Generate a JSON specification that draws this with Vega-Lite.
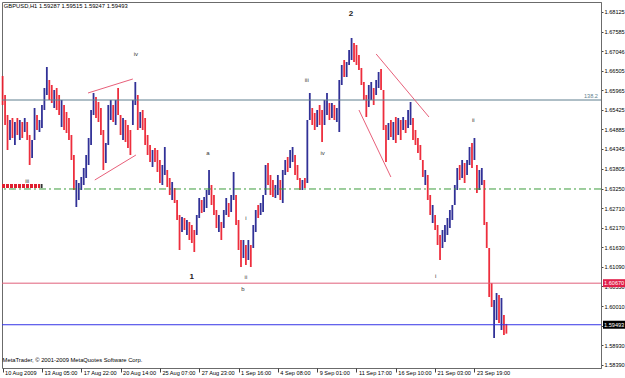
{
"$schema": "https://vega.github.io/schema/vega-lite/v6.json",
"width": 599, "height": 366,
"autosize": {"type": "none"},
"padding": {"left": 2, "top": 2, "right": 24, "bottom": 10},
"background": "white",
"config": {"view": {"stroke": "#6b6b6b", "strokeWidth": 1}, "font": "Liberation Sans"},
"resolve": {"axis": {"x": "independent", "y": "independent"}},
"datasets": {
"c": [
{"b":0,"h":1.66358,"l":1.65558,"s":"d"},{"b":4,"h":1.65834,"l":1.65006,"s":"d"},{"b":8,"h":1.65282,"l":1.64316,"s":"d"},{"b":12,"h":1.65144,"l":1.64592,"s":"u"},
{"b":16,"h":1.65199,"l":1.64647,"s":"d"},{"b":20,"h":1.65089,"l":1.64454,"s":"u"},{"b":24,"h":1.65199,"l":1.64730,"s":"d"},{"b":28,"h":1.65144,"l":1.64592,"s":"u"},
{"b":32,"h":1.65089,"l":1.64647,"s":"d"},{"b":36,"h":1.65199,"l":1.64813,"s":"u"},{"b":40,"h":1.65089,"l":1.64592,"s":"d"},{"b":44,"h":1.64730,"l":1.63902,"s":"d"},
{"b":48,"h":1.64592,"l":1.64095,"s":"u"},{"b":52,"h":1.65475,"l":1.64592,"s":"u"},{"b":56,"h":1.65282,"l":1.64868,"s":"d"},{"b":60,"h":1.65144,"l":1.64813,"s":"u"},
{"b":64,"h":1.65558,"l":1.64923,"s":"u"},{"b":68,"h":1.66027,"l":1.65420,"s":"u"},{"b":72,"h":1.66607,"l":1.65834,"s":"u"},{"b":76,"h":1.66248,"l":1.65696,"s":"d"},
{"b":80,"h":1.66110,"l":1.65613,"s":"d"},{"b":84,"h":1.65972,"l":1.65475,"s":"u"},{"b":88,"h":1.66027,"l":1.65420,"s":"d"},{"b":92,"h":1.65834,"l":1.65282,"s":"d"},
{"b":96,"h":1.65696,"l":1.64951,"s":"u"},{"b":100,"h":1.65558,"l":1.64868,"s":"d"},{"b":104,"h":1.65365,"l":1.64785,"s":"d"},{"b":108,"h":1.65199,"l":1.64592,"s":"d"},
{"b":112,"h":1.64730,"l":1.64040,"s":"d"},{"b":116,"h":1.64178,"l":1.63212,"s":"d"},{"b":120,"h":1.63488,"l":1.62743,"s":"u"},{"b":124,"h":1.63405,"l":1.62936,"s":"u"},
{"b":128,"h":1.63571,"l":1.63212,"s":"u"},{"b":132,"h":1.63819,"l":1.63350,"s":"u"},{"b":136,"h":1.64178,"l":1.63543,"s":"u"},{"b":140,"h":1.64647,"l":1.63902,"s":"u"},
{"b":144,"h":1.65420,"l":1.64454,"s":"u"},{"b":148,"h":1.65889,"l":1.65282,"s":"u"},{"b":152,"h":1.65779,"l":1.65199,"s":"d"},{"b":156,"h":1.65641,"l":1.65089,"s":"d"},
{"b":160,"h":1.65475,"l":1.64730,"s":"d"},{"b":164,"h":1.64868,"l":1.63764,"s":"d"},{"b":168,"h":1.64509,"l":1.63957,"s":"u"},{"b":172,"h":1.65558,"l":1.64454,"s":"u"},
{"b":176,"h":1.65696,"l":1.65144,"s":"u"},{"b":180,"h":1.65558,"l":1.65089,"s":"d"},{"b":184,"h":1.65696,"l":1.65006,"s":"u"},{"b":188,"h":1.66027,"l":1.65282,"s":"d"},
{"b":192,"h":1.65282,"l":1.64730,"s":"d"},{"b":196,"h":1.65199,"l":1.64592,"s":"u"},{"b":200,"h":1.65144,"l":1.64537,"s":"d"},{"b":204,"h":1.65006,"l":1.64371,"s":"d"},
{"b":208,"h":1.64868,"l":1.64178,"s":"d"},{"b":212,"h":1.65696,"l":1.65006,"s":"u"},{"b":216,"h":1.66193,"l":1.65558,"s":"u"},{"b":220,"h":1.65834,"l":1.64868,"s":"d"},
{"b":224,"h":1.65365,"l":1.64923,"s":"u"},{"b":228,"h":1.65420,"l":1.64868,"s":"d"},{"b":232,"h":1.65199,"l":1.64454,"s":"d"},{"b":236,"h":1.64730,"l":1.64178,"s":"d"},
{"b":240,"h":1.64454,"l":1.63985,"s":"d"},{"b":244,"h":1.64316,"l":1.63847,"s":"u"},{"b":248,"h":1.64371,"l":1.63985,"s":"d"},{"b":252,"h":1.64316,"l":1.63709,"s":"d"},
{"b":256,"h":1.64040,"l":1.63405,"s":"d"},{"b":260,"h":1.63902,"l":1.63350,"s":"u"},{"b":264,"h":1.64399,"l":1.63626,"s":"u"},{"b":268,"h":1.63764,"l":1.63295,"s":"d"},
{"b":272,"h":1.63543,"l":1.63074,"s":"d"},{"b":276,"h":1.63433,"l":1.62936,"s":"u"},{"b":280,"h":1.63267,"l":1.62853,"s":"d"},{"b":284,"h":1.62936,"l":1.62384,"s":"d"},
{"b":288,"h":1.62522,"l":1.61556,"s":"d"},{"b":292,"h":1.62467,"l":1.62053,"s":"u"},{"b":296,"h":1.62439,"l":1.62108,"s":"d"},{"b":300,"h":1.62384,"l":1.61970,"s":"u"},
{"b":304,"h":1.62329,"l":1.61832,"s":"d"},{"b":308,"h":1.62246,"l":1.61749,"s":"d"},{"b":312,"h":1.62108,"l":1.61501,"s":"d"},{"b":316,"h":1.62522,"l":1.61970,"s":"u"},
{"b":320,"h":1.62991,"l":1.62439,"s":"u"},{"b":324,"h":1.62936,"l":1.62577,"s":"d"},{"b":328,"h":1.63019,"l":1.62605,"s":"u"},{"b":332,"h":1.63212,"l":1.62715,"s":"u"},
{"b":336,"h":1.63764,"l":1.63074,"s":"u"},{"b":340,"h":1.63350,"l":1.62798,"s":"d"},{"b":344,"h":1.63074,"l":1.62522,"s":"d"},{"b":348,"h":1.62660,"l":1.62163,"s":"d"},
{"b":352,"h":1.62522,"l":1.62053,"s":"u"},{"b":356,"h":1.62329,"l":1.61832,"s":"d"},{"b":360,"h":1.62660,"l":1.62163,"s":"u"},{"b":364,"h":1.62991,"l":1.62522,"s":"u"},
{"b":368,"h":1.62853,"l":1.62467,"s":"d"},{"b":372,"h":1.63074,"l":1.62605,"s":"u"},{"b":376,"h":1.63709,"l":1.62936,"s":"u"},{"b":380,"h":1.63074,"l":1.62246,"s":"d"},
{"b":384,"h":1.62384,"l":1.61556,"s":"d"},{"b":388,"h":1.61832,"l":1.61087,"s":"d"},{"b":392,"h":1.61832,"l":1.61335,"s":"u"},{"b":396,"h":1.61694,"l":1.61142,"s":"d"},
{"b":400,"h":1.61832,"l":1.61280,"s":"u"},{"b":404,"h":1.61694,"l":1.61087,"s":"d"},{"b":408,"h":1.62246,"l":1.61611,"s":"u"},{"b":412,"h":1.62660,"l":1.62053,"s":"u"},
{"b":416,"h":1.62798,"l":1.62439,"s":"d"},{"b":420,"h":1.62853,"l":1.62522,"s":"u"},{"b":424,"h":1.63074,"l":1.62605,"s":"u"},{"b":428,"h":1.63902,"l":1.63074,"s":"u"},
{"b":432,"h":1.63957,"l":1.63350,"s":"d"},{"b":436,"h":1.63626,"l":1.63074,"s":"d"},{"b":440,"h":1.63488,"l":1.63019,"s":"d"},{"b":444,"h":1.63350,"l":1.62991,"s":"u"},
{"b":448,"h":1.63626,"l":1.63074,"s":"u"},{"b":452,"h":1.63488,"l":1.62936,"s":"d"},{"b":456,"h":1.63764,"l":1.62853,"s":"u"},{"b":460,"h":1.64040,"l":1.63626,"s":"u"},
{"b":464,"h":1.64123,"l":1.63709,"s":"d"},{"b":468,"h":1.64316,"l":1.63819,"s":"u"},{"b":472,"h":1.64399,"l":1.63985,"s":"u"},{"b":476,"h":1.64178,"l":1.63626,"s":"d"},
{"b":480,"h":1.63902,"l":1.63488,"s":"d"},{"b":484,"h":1.63543,"l":1.63212,"s":"d"},{"b":488,"h":1.63488,"l":1.63212,"s":"u"},{"b":492,"h":1.63543,"l":1.63267,"s":"d"},
{"b":496,"h":1.65144,"l":1.63405,"s":"u"},{"b":500,"h":1.65889,"l":1.65144,"s":"u"},{"b":504,"h":1.65475,"l":1.65006,"s":"d"},{"b":508,"h":1.65337,"l":1.64868,"s":"d"},
{"b":512,"h":1.65420,"l":1.64951,"s":"u"},{"b":516,"h":1.65558,"l":1.65006,"s":"d"},{"b":520,"h":1.65420,"l":1.64537,"s":"d"},{"b":524,"h":1.65696,"l":1.65006,"s":"u"},
{"b":528,"h":1.65889,"l":1.65282,"s":"u"},{"b":532,"h":1.65613,"l":1.65144,"s":"d"},{"b":536,"h":1.65613,"l":1.65199,"s":"u"},{"b":540,"h":1.65558,"l":1.65144,"s":"d"},
{"b":544,"h":1.65475,"l":1.65089,"s":"u"},{"b":548,"h":1.66248,"l":1.64813,"s":"u"},{"b":552,"h":1.66662,"l":1.66110,"s":"u"},{"b":556,"h":1.66800,"l":1.66331,"s":"d"},
{"b":560,"h":1.66745,"l":1.66331,"s":"u"},{"b":564,"h":1.67076,"l":1.66662,"s":"u"},{"b":568,"h":1.67407,"l":1.66800,"s":"u"},{"b":572,"h":1.67269,"l":1.66745,"s":"d"},
{"b":576,"h":1.67214,"l":1.66662,"s":"d"},{"b":580,"h":1.66938,"l":1.66524,"s":"d"},{"b":584,"h":1.66579,"l":1.66110,"s":"d"},{"b":588,"h":1.66193,"l":1.65696,"s":"d"},
{"b":592,"h":1.65834,"l":1.65227,"s":"d"},{"b":596,"h":1.66110,"l":1.65503,"s":"u"},{"b":600,"h":1.66193,"l":1.65696,"s":"u"},{"b":604,"h":1.66027,"l":1.65558,"s":"d"},
{"b":608,"h":1.66248,"l":1.65834,"s":"u"},{"b":612,"h":1.66469,"l":1.66027,"s":"u"},{"b":616,"h":1.66552,"l":1.65972,"s":"d"},{"b":620,"h":1.65972,"l":1.64868,"s":"d"},
{"b":624,"h":1.65006,"l":1.63985,"s":"d"},{"b":628,"h":1.65061,"l":1.64592,"s":"u"},{"b":632,"h":1.65144,"l":1.64675,"s":"d"},{"b":636,"h":1.65089,"l":1.64592,"s":"u"},
{"b":640,"h":1.65227,"l":1.64509,"s":"d"},{"b":644,"h":1.65199,"l":1.64730,"s":"u"},{"b":648,"h":1.65144,"l":1.64592,"s":"d"},{"b":652,"h":1.65227,"l":1.64868,"s":"u"},
{"b":656,"h":1.65144,"l":1.64785,"s":"d"},{"b":660,"h":1.65420,"l":1.64923,"s":"u"},{"b":664,"h":1.65641,"l":1.65006,"s":"u"},{"b":668,"h":1.65199,"l":1.64592,"s":"d"},
{"b":672,"h":1.64868,"l":1.64454,"s":"d"},{"b":676,"h":1.64647,"l":1.64233,"s":"d"},{"b":680,"h":1.64454,"l":1.64040,"s":"d"},{"b":684,"h":1.64040,"l":1.63571,"s":"d"},
{"b":688,"h":1.63764,"l":1.63350,"s":"u"},{"b":692,"h":1.63626,"l":1.62936,"s":"d"},{"b":696,"h":1.63074,"l":1.62522,"s":"d"},{"b":700,"h":1.62798,"l":1.62301,"s":"u"},
{"b":704,"h":1.62522,"l":1.62108,"s":"d"},{"b":708,"h":1.62246,"l":1.61694,"s":"d"},{"b":712,"h":1.61970,"l":1.61280,"s":"d"},{"b":716,"h":1.62108,"l":1.61611,"s":"u"},
{"b":720,"h":1.62246,"l":1.61777,"s":"u"},{"b":724,"h":1.62439,"l":1.61970,"s":"u"},{"b":728,"h":1.62660,"l":1.62163,"s":"u"},{"b":732,"h":1.62798,"l":1.62384,"s":"u"},
{"b":736,"h":1.63350,"l":1.62798,"s":"u"},{"b":740,"h":1.63819,"l":1.63212,"s":"u"},{"b":744,"h":1.63902,"l":1.63488,"s":"d"},{"b":748,"h":1.64040,"l":1.63543,"s":"u"},
{"b":752,"h":1.63957,"l":1.63405,"s":"d"},{"b":756,"h":1.64040,"l":1.63626,"s":"u"},{"b":760,"h":1.64399,"l":1.63902,"s":"u"},{"b":764,"h":1.64509,"l":1.63819,"s":"d"},
{"b":768,"h":1.64647,"l":1.64040,"s":"u"},{"b":772,"h":1.63902,"l":1.63129,"s":"d"},{"b":776,"h":1.63764,"l":1.63212,"s":"u"},{"b":780,"h":1.63819,"l":1.63350,"s":"u"},
{"b":784,"h":1.63488,"l":1.62246,"s":"d"},{"b":788,"h":1.62329,"l":1.61611,"s":"d"},{"b":792,"h":1.61611,"l":1.60259,"s":"d"},{"b":796,"h":1.60645,"l":1.59983,"s":"d"},
{"b":800,"h":1.60176,"l":1.59127,"s":"u"},{"b":804,"h":1.60369,"l":1.59624,"s":"u"},{"b":808,"h":1.60314,"l":1.59541,"s":"d"},{"b":812,"h":1.60231,"l":1.59348,"s":"u"},
{"b":816,"h":1.59762,"l":1.59210,"s":"d"},{"b":820,"h":1.59515,"l":1.59247,"s":"d"}
],
"tl": [
{"b1":139,"b2":212,"p1":1.65889,"p2":1.66276},
{"b1":150,"b2":217,"p1":1.63488,"p2":1.64178},
{"b1":608,"b2":694,"p1":1.66966,"p2":1.65227},
{"b1":580,"b2":632,"p1":1.65420,"p2":1.63571}
],
"ann": [
{"b":217,"p":1.66960,"t":"iv"},{"b":40,"p":1.63470,"t":"iii"},{"b":334,"p":1.64233,"t":"a"},
{"b":396,"p":1.60811,"t":"ii"},{"b":391,"p":1.60480,"t":"b"},{"b":396,"p":1.62439,"t":"i"},
{"b":495,"p":1.66248,"t":"iii"},{"b":521,"p":1.64233,"t":"iv"},{"b":766,"p":1.65144,"t":"ii"},{"b":705,"p":1.60838,"t":"i"}
],
"big": [
{"b":308,"p":1.60811,"t":"1"},{"b":567,"p":1.68070,"t":"2"}
]
},
"layer": [
{
"data": {"name": "c"},
"mark": {"type": "rule", "strokeWidth": 1.8, "opacity": 0.92},
"encoding": {
"x": {"field": "b", "type": "quantitative", "scale": {"domain": [-1, 974], "nice": false, "zero": false},
"axis": {"orient": "bottom", "values": [0,64,128,192,256,320,384,448,512,576,640,704,768],
"labelExpr": "['10 Aug 2009','13 Aug 05:00','17 Aug 22:00','20 Aug 14:00','25 Aug 07:00','27 Aug 23:00','1 Sep 16:00','4 Sep 08:00','9 Sep 01:00','11 Sep 17:00','16 Sep 10:00','21 Sep 03:00','23 Sep 19:00'][round(datum.value/64)]",
"labelAlign": "left", "labelBaseline": "top", "labelFontSize": 5.6, "labelColor": "#000", "labelPadding": -2, "labelOffset": 2,
"tickSize": 4, "tickColor": "#444", "domain": false, "grid": false, "title": null, "labelFlush": false, "labelOverlap": false, "labelBound": false}},
"y": {"field": "l", "type": "quantitative", "scale": {"domain": [1.58299, 1.68401], "nice": false, "zero": false},
"axis": {"orient": "right", "values": [1.68125,1.67585,1.67046,1.66505,1.65965,1.65425,1.64885,1.64345,1.63805,1.6325,1.6271,1.6217,1.6163,1.6109,1.6055,1.6001,1.5947,1.5893,1.5839],
"format": ".5f", "labelFontSize": 5.6, "labelColor": "#000", "labelPadding": 1, "tickSize": 2, "tickColor": "#444",
"domain": true, "domainColor": "#6b6b6b", "grid": false, "title": null, "labelOverlap": false, "labelBound": false, "labelFlush": false}},
"y2": {"field": "h"},
"color": {"field": "s", "type": "nominal", "scale": {"domain": ["d", "u"], "range": ["#ec1c2c", "#20208e"]}, "legend": null}
}
},
{
"data": {"values": [{"p": 1.65696}]},
"mark": {"type": "rule", "strokeWidth": 1, "color": "#5f7f8e"},
"encoding": {"y": {"field": "p", "type": "quantitative", "scale": {"domain": [1.58299, 1.68401], "nice": false, "zero": false}, "axis": null}}
},
{
"data": {"values": [{"p": 1.6064}]},
"mark": {"type": "rule", "strokeWidth": 1, "color": "#e0607a"},
"encoding": {"y": {"field": "p", "type": "quantitative", "scale": {"domain": [1.58299, 1.68401], "nice": false, "zero": false}, "axis": null}}
},
{
"data": {"values": [{"p": 1.59493}]},
"mark": {"type": "rule", "strokeWidth": 1, "color": "#3434e6"},
"encoding": {"y": {"field": "p", "type": "quantitative", "scale": {"domain": [1.58299, 1.68401], "nice": false, "zero": false}, "axis": null}}
},
{
"data": {"values": [{"p": 1.6324}]},
"mark": {"type": "rule", "strokeWidth": 1, "color": "#3c9c3c", "strokeDash": [7, 3, 2, 3]},
"encoding": {"y": {"field": "p", "type": "quantitative", "scale": {"domain": [1.58299, 1.68401], "nice": false, "zero": false}, "axis": null}}
},
{
"data": {"name": "tl"},
"mark": {"type": "rule", "strokeWidth": 1, "color": "#e8607a"},
"encoding": {
"x": {"field": "b1", "type": "quantitative", "scale": {"domain": [-1, 974], "nice": false, "zero": false}, "axis": null},
"x2": {"field": "b2"},
"y": {"field": "p1", "type": "quantitative", "scale": {"domain": [1.58299, 1.68401], "nice": false, "zero": false}, "axis": null},
"y2": {"field": "p2"}
}
},
{
"data": {"values": [{"b1": -1, "b2": 61, "p": 1.63322}]},
"mark": {"type": "rule", "strokeWidth": 4, "color": "#e02030", "strokeDash": [3, 1]},
"encoding": {
"x": {"field": "b1", "type": "quantitative", "scale": {"domain": [-1, 974], "nice": false, "zero": false}, "axis": null},
"x2": {"field": "b2"},
"y": {"field": "p", "type": "quantitative", "scale": {"domain": [1.58299, 1.68401], "nice": false, "zero": false}, "axis": null}
}
},
{
"data": {"values": [{"b1": 62, "b2": 65, "p": 1.63322}]},
"mark": {"type": "rule", "strokeWidth": 4, "color": "#333333"},
"encoding": {
"x": {"field": "b1", "type": "quantitative", "scale": {"domain": [-1, 974], "nice": false, "zero": false}, "axis": null},
"x2": {"field": "b2"},
"y": {"field": "p", "type": "quantitative", "scale": {"domain": [1.58299, 1.68401], "nice": false, "zero": false}, "axis": null}
}
},
{
"data": {"name": "ann"},
"mark": {"type": "text", "fontSize": 6, "color": "#333333", "align": "center", "baseline": "middle"},
"encoding": {
"x": {"field": "b", "type": "quantitative", "scale": {"domain": [-1, 974], "nice": false, "zero": false}, "axis": null},
"y": {"field": "p", "type": "quantitative", "scale": {"domain": [1.58299, 1.68401], "nice": false, "zero": false}, "axis": null},
"text": {"field": "t"}
}
},
{
"data": {"name": "big"},
"mark": {"type": "text", "fontSize": 8, "fontWeight": "bold", "color": "#222222", "align": "center", "baseline": "middle"},
"encoding": {
"x": {"field": "b", "type": "quantitative", "scale": {"domain": [-1, 974], "nice": false, "zero": false}, "axis": null},
"y": {"field": "p", "type": "quantitative", "scale": {"domain": [1.58299, 1.68401], "nice": false, "zero": false}, "axis": null},
"text": {"field": "t"}
}
},
{
"data": {"values": [{"b": 2, "p": 1.6829, "t": "GBPUSD,H1  1.59287 1.59515 1.59247 1.59493"}, {"b": 0, "p": 1.5852, "t": "MetaTrader, © 2001-2009 MetaQuotes Software Corp."}]},
"mark": {"type": "text", "fontSize": 5.8, "color": "#000000", "align": "left", "baseline": "middle"},
"encoding": {
"x": {"field": "b", "type": "quantitative", "scale": {"domain": [-1, 974], "nice": false, "zero": false}, "axis": null},
"y": {"field": "p", "type": "quantitative", "scale": {"domain": [1.58299, 1.68401], "nice": false, "zero": false}, "axis": null},
"text": {"field": "t"}
}
},
{
"data": {"values": [{"b": 969, "p": 1.65806, "t": "138.2"}]},
"mark": {"type": "text", "fontSize": 5.6, "color": "#5f7f8e", "align": "right", "baseline": "middle"},
"encoding": {
"x": {"field": "b", "type": "quantitative", "scale": {"domain": [-1, 974], "nice": false, "zero": false}, "axis": null},
"y": {"field": "p", "type": "quantitative", "scale": {"domain": [1.58299, 1.68401], "nice": false, "zero": false}, "axis": null},
"text": {"field": "t"}
}
},
{
"data": {"values": [{"p": 1.6064}]},
"mark": {"type": "rect", "color": "#e0204a", "x2Offset": 24, "yOffset": -4, "y2Offset": 4, "xOffset": 2},
"encoding": {
"x": {"datum": 974, "type": "quantitative", "scale": {"domain": [-1, 974], "nice": false, "zero": false}, "axis": null},
"x2": {"datum": 974},
"y": {"field": "p", "type": "quantitative", "scale": {"domain": [1.58299, 1.68401], "nice": false, "zero": false}, "axis": null},
"y2": {"field": "p"}
}
},
{
"data": {"values": [{"p": 1.59493}]},
"mark": {"type": "rect", "color": "#000000", "x2Offset": 24, "yOffset": -4, "y2Offset": 4, "xOffset": 2},
"encoding": {
"x": {"datum": 974, "type": "quantitative", "scale": {"domain": [-1, 974], "nice": false, "zero": false}, "axis": null},
"x2": {"datum": 974},
"y": {"field": "p", "type": "quantitative", "scale": {"domain": [1.58299, 1.68401], "nice": false, "zero": false}, "axis": null},
"y2": {"field": "p"}
}
},
{
"data": {"values": [{"p": 1.6064, "t": "1.60670"}, {"p": 1.59493, "t": "1.59493"}]},
"mark": {"type": "text", "fontSize": 5.6, "color": "#ffffff", "align": "left", "baseline": "middle", "dx": 3},
"encoding": {
"x": {"datum": 974, "type": "quantitative", "scale": {"domain": [-1, 974], "nice": false, "zero": false}, "axis": null},
"y": {"field": "p", "type": "quantitative", "scale": {"domain": [1.58299, 1.68401], "nice": false, "zero": false}, "axis": null},
"text": {"field": "t"}
}
}
]
}
